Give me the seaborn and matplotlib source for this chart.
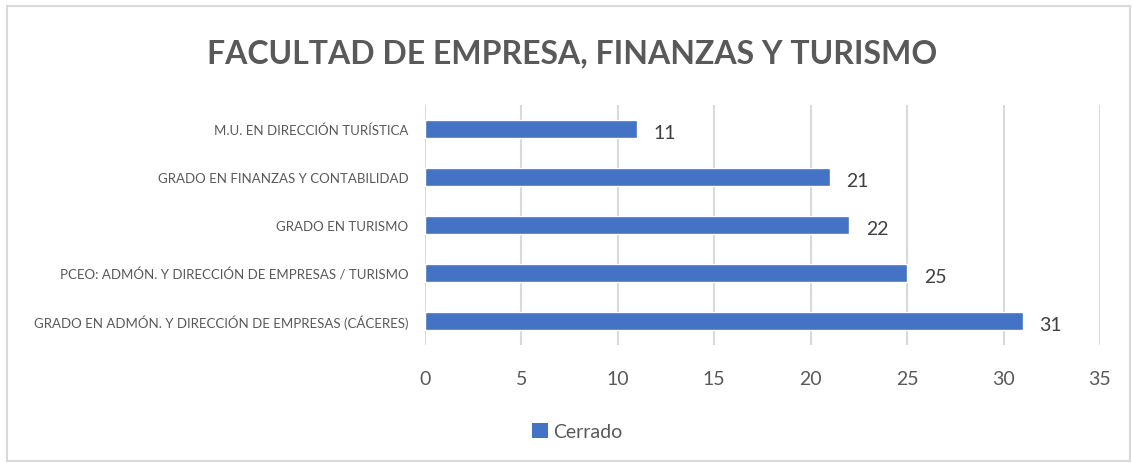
import matplotlib
matplotlib.use("Agg")
import matplotlib.pyplot as plt
from matplotlib.patches import Rectangle, Patch
import seaborn as sns
import pandas as pd

# Programas de la facultad y número de registros en estado "Cerrado"
programas = [
    "M.U. EN DIRECCIÓN TURÍSTICA",
    "GRADO EN FINANZAS Y CONTABILIDAD",
    "GRADO EN TURISMO",
    "PCEO: ADMÓN. Y DIRECCIÓN DE EMPRESAS / TURISMO",
    "GRADO EN ADMÓN. Y DIRECCIÓN DE EMPRESAS (CÁCERES)",
]
cerrado = [11, 21, 22, 25, 31]
x_ticks = [0, 5, 10, 15, 20, 25, 30, 35]
titulo = "FACULTAD DE EMPRESA, FINANZAS Y TURISMO"
serie = "Cerrado"

BAR = "#4472C4"
TXT = "#595959"
GRID = "#D9D9D9"

sns.set_theme(style="white")
plt.rcParams["font.family"] = ["Lato", "DejaVu Sans"]

df = pd.DataFrame({"programa": programas, "valor": cerrado})

fig = plt.figure(figsize=(11.32, 4.64), dpi=100)
ax = fig.add_axes([0.3754, 0.2543, 0.5963, 0.5173])

sns.barplot(data=df, y="programa", x="valor", orient="h", color=BAR,
            width=0.36, saturation=1, ax=ax, zorder=3)

ax.set_xlim(0, 35)
ax.set_xticks(x_ticks)
ax.xaxis.grid(True, color=GRID, linewidth=1.5, zorder=0)
ax.set_axisbelow(True)
for s in ax.spines.values():
    s.set_visible(False)
ax.set_xlabel("")
ax.set_ylabel("")
ax.tick_params(axis="x", length=0, pad=18, labelsize=14, labelcolor=TXT)
ax.tick_params(axis="y", length=0, pad=12, labelsize=9.5, labelcolor=TXT)

for cont in ax.containers:
    labels = ax.bar_label(cont, labels=[str(v) for v in cerrado], padding=12,
                          fontsize=14, color="#404040")
    for t in labels:
        t.set_verticalalignment("center")
        dx, dy = t.get_position()
        t.set_position((dx, dy - 2.5))

fig.text(0.505, 0.885, titulo, ha="center", va="center", fontsize=23,
         fontweight="bold", color=TXT)

fig.legend(handles=[Patch(facecolor=BAR, edgecolor="none", label=serie)],
           loc="center", bbox_to_anchor=(0.51, 0.068), frameon=False,
           fontsize=14, labelcolor=TXT, handlelength=0.8, handleheight=0.8,
           handletextpad=0.3)

fig.patches.append(Rectangle((0.006, 0.004), 0.992, 0.98, transform=fig.transFigure,
                             fill=False, edgecolor=GRID, linewidth=1.5))

fig.savefig("out.png", dpi=100, facecolor="white")
